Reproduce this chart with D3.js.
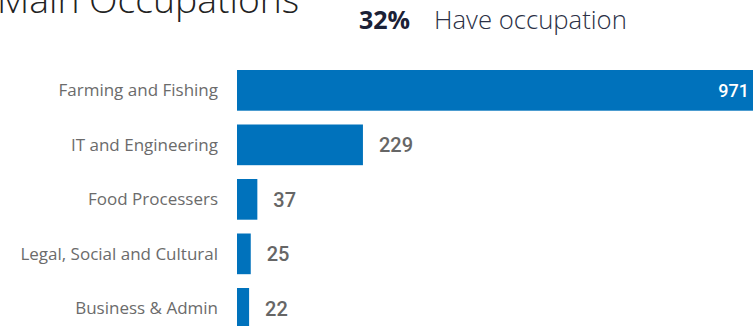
<!DOCTYPE html>
<html>
<head>
<meta charset="utf-8">
<script src="https://cdn.jsdelivr.net/npm/d3@7"></script>
<style>
  html, body { margin: 0; padding: 0; background: #fff; overflow: hidden; }
  svg { display: block; }
</style>
</head>
<body>
<div id="chart"></div>
<script>
// data
const categories = ["Farming and Fishing", "IT and Engineering", "Food Processers", "Legal, Social and Cultural", "Business & Admin"];
const counts = [971, 229, 37, 25, 22];
const kpiValue = "32%";
const kpiText = "Have occupation";
const title = "Main Occupations";

const W = 753, H = 326;
const margin = { top: 70, left: 237 };
const plotW = 534, step = 54.5, barH = 40.7;

const svg = d3.select("#chart").append("svg")
    .attr("width", W)
    .attr("height", H);

// title
svg.append("text")
    .attr("x", -3)
    .attr("y", 13)
    .attr("font-family", "'Segoe UI Light', 'Open Sans', sans-serif")
    .attr("font-weight", 300)
    .attr("font-size", "37.3px")
    .attr("fill", "#222")
    .text(title);

// kpi
svg.append("text")
    .attr("x", 359)
    .attr("y", 29)
    .attr("font-family", "'Segoe UI', 'Open Sans', sans-serif")
    .attr("font-weight", 700)
    .attr("font-size", "25px")
    .attr("fill", "#1b2136")
    .text(kpiValue);

svg.append("text")
    .attr("x", 434)
    .attr("y", 29)
    .attr("font-family", "'Segoe UI Light', 'Open Sans', sans-serif")
    .attr("font-weight", 300)
    .attr("font-size", "25.7px")
    .attr("fill", "#2b3045")
    .text(kpiText);

const chart = svg.append("g")
    .attr("transform", `translate(${margin.left},${margin.top})`);

const x = d3.scaleLinear()
    .domain([0, d3.max(counts)])
    .range([0, plotW]);

const y = d3.scaleBand()
    .domain(categories)
    .range([0, step * (categories.length - 1) + barH])
    .paddingInner(1 - barH / step)
    .paddingOuter(0)
    .align(0);

const data = categories.map((c, i) => ({ cat: c, val: counts[i] }));

chart.selectAll(".bar")
    .data(data)
    .enter()
    .append("rect")
    .attr("class", "bar")
    .attr("x", 0)
    .attr("y", d => y(d.cat))
    .attr("width", d => x(d.val))
    .attr("height", y.bandwidth())
    .attr("fill", "#0072bc");

// category labels
chart.selectAll(".cat")
    .data(data)
    .enter()
    .append("text")
    .attr("class", "cat")
    .attr("x", -19)
    .attr("y", d => y(d.cat) + y.bandwidth() / 2)
    .attr("dy", "0.35em")
    .attr("text-anchor", "end")
    .attr("font-family", "'Segoe UI', 'Open Sans', sans-serif")
    .attr("font-size", "17px")
    .attr("fill", "#6b6b6b")
    .text(d => d.cat);

// value labels
const visibleW = W - margin.left;
chart.selectAll(".val")
    .data(data)
    .enter()
    .append("text")
    .attr("class", "val")
    .each(function (d) {
        const inside = x(d.val) > visibleW - 60;
        d3.select(this)
            .attr("x", inside ? Math.min(x(d.val), visibleW) - 4 : x(d.val) + 16)
            .attr("text-anchor", inside ? "end" : "start")
            .attr("fill", inside ? "#fff" : "#666")
            .attr("font-size", inside ? "18px" : "20px");
    })
    .attr("y", d => y(d.cat) + y.bandwidth() / 2)
    .attr("dy", "0.36em")
    .attr("font-family", "'DIN', 'Roboto', sans-serif")
    .attr("font-weight", 500)
    .text(d => d.val);
</script>
</body>
</html>
